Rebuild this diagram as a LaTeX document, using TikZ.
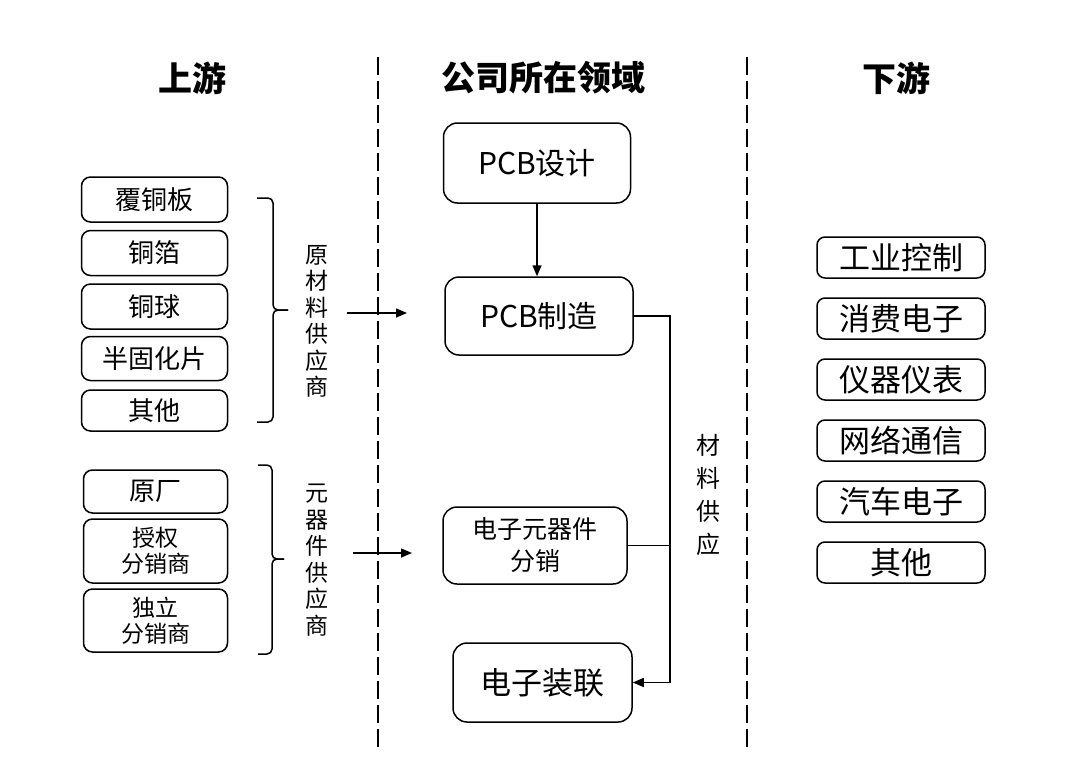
\documentclass[tikz,border=0pt]{standalone}
\usepackage{fontspec}
\setmainfont{Noto Sans CJK SC}
\usetikzlibrary{positioning,arrows.meta}

\begin{document}
\begin{tikzpicture}[x=1pt, y=-1pt, line width=1.5pt,
        lbox/.style={draw, rounded corners=9pt, minimum width=146pt, minimum height=45pt, inner sep=0pt, align=center, font=\fontsize{26}{28}\selectfont},
        mbox/.style={draw, rounded corners=14pt, inner sep=0pt, align=center, font=\fontsize{30}{33}\selectfont},
        rbox/.style={draw, rounded corners=8pt, minimum width=168pt, minimum height=41pt, inner sep=0pt, font=\fontsize{31}{33}\selectfont},
        vtext/.style={align=center, inner sep=0pt, font=\fontsize{23}{26.5}\selectfont},
        head/.style={font=\fontsize{34}{36}\selectfont\bfseries},
        divider/.style={dash pattern=on 18pt off 6pt, line width=1.6pt},
        arr/.style={-{Triangle[length=11pt,width=9pt]}}]
    \useasboundingbox (0,0) rectangle (1080,779);

    % column headings and dividers
    \node[head] (up) at (192,78) {上游};
    \node[head] (mid) at (543,78) {公司所在领域};
    \node[head] (down) at (896,78) {下游};
    \draw[divider] (378,57) -- (378,747);
    \draw[divider] (747,57) -- (747,747);

    % upstream: raw materials
    \node[lbox] (ccl) at (154.5,199.5) {覆铜板};
    \node[lbox] (foil) [below=7pt of ccl] {铜箔};
    \node[lbox] (ball) [below=7pt of foil] {铜球};
    \node[lbox, minimum height=44pt] (pp) [below=6pt of ball] {半固化片};
    \node[lbox, minimum height=41pt] (misc) [below=8pt of pp] {其他};
    \draw[rounded corners=5pt] (257,198) -- (273,198) -- (273,310) -- (288,310);
    \draw[rounded corners=5pt] (288,310) -- (273,310) -- (273,422) -- (257,422);
    \node[vtext] (rawsup) at (317,321.5) {原\\材\\料\\供\\应\\商};

    % upstream: components
    \node[lbox, minimum width=144pt, minimum height=43pt] (oem) at (155.5,491.5) {原厂};
    \node[lbox, minimum width=144pt, minimum height=64pt, font=\fontsize{23}{26}\selectfont] (auth) [below=4.5pt of oem] {授权\\分销商};
    \node[lbox, minimum width=144pt, minimum height=63pt, font=\fontsize{23}{26}\selectfont] (indep) [below=4.5pt of auth] {独立\\分销商};
    \draw[rounded corners=5pt] (258,465) -- (272,465) -- (272,559) -- (284,559);
    \draw[rounded corners=5pt] (284,559) -- (272,559) -- (272,654) -- (258,654);
    \node[vtext] (compsup) at (317,560) {元\\器\\件\\供\\应\\商};

    \coordinate (a1s) at (347,313);
    \coordinate (a1e) at (407,313);
    \coordinate (a2s) at (353,553);
    \coordinate (a2e) at (412,553);
    \draw[arr] (a1s) -- (a1e);
    \draw[arr] (a2s) -- (a2e);

    % company field
    \node[mbox, minimum width=187pt, minimum height=80pt] (design) at (537,163) {PCB设计};
    \node[mbox, minimum width=188pt, minimum height=78pt] (manuf) at (539,316) {PCB制造};
    \node[mbox, minimum width=184pt, minimum height=77pt, font=\fontsize{25}{32}\selectfont] (dist) at (535,545.5) {电子元器件\\分销};
    \node[mbox, minimum width=179pt, minimum height=79pt, font=\fontsize{31}{33}\selectfont] (assem) at (542.5,682.5) {电子装联};
    \coordinate (bus) at (670,316);
    \draw[arr] (design) -- (design |- manuf.north);
    \draw[arr] (manuf.east) -- (bus) -- (bus |- assem.east) -- (assem.east);
    \draw (dist.east) -- (dist.east -| bus);
    \node[vtext, font=\fontsize{24}{33}\selectfont] (matsup) at (708,495) {材\\料\\供\\应};

    % downstream
    \node[rbox] (ind) at (901,257.5) {工业控制};
    \node[rbox] (cons) [below=18.5pt of ind] {消费电子};
    \node[rbox] (inst) [below=18.5pt of cons] {仪器仪表};
    \node[rbox] (net) [below=18.5pt of inst] {网络通信};
    \node[rbox] (auto) [below=18.5pt of net] {汽车电子};
    \node[rbox] (other) [below=18.5pt of auto] {其他};
\end{tikzpicture}
\end{document}
